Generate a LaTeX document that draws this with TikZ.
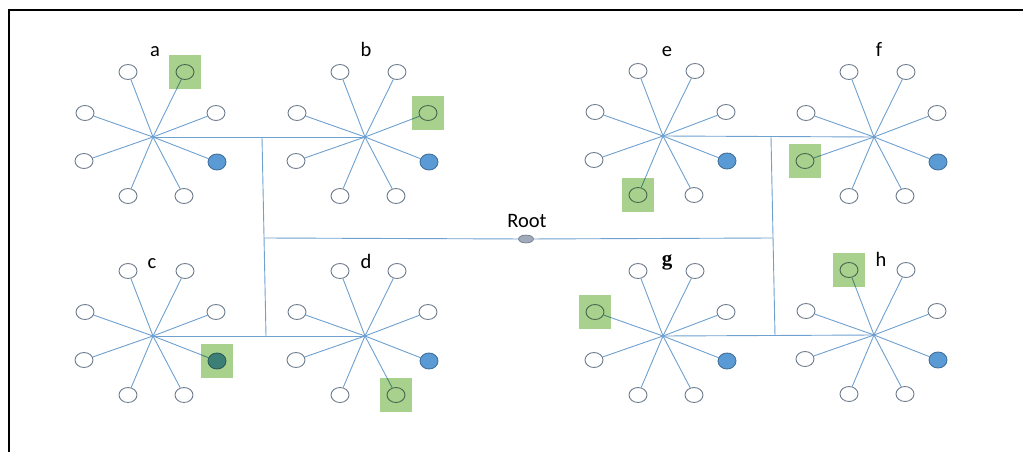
\documentclass[tikz,border=0pt]{standalone}
\usepackage{fontspec}
\setmainfont{Carlito}
\newfontfamily\serifg{Liberation Serif}
\definecolor{linkblue}{RGB}{110,160,208}
\definecolor{leafline}{RGB}{110,125,142}
\definecolor{leaffill}{RGB}{91,155,213}
\definecolor{leafdraw}{RGB}{65,113,156}
\definecolor{greenbox}{RGB}{169,209,142}
\definecolor{rootfill}{RGB}{160,170,185}
\definecolor{rootdraw}{RGB}{105,115,130}
\tikzset{
  leaf/.style={ellipse, draw=leafline, line width=0.9pt, minimum width=18pt, minimum height=15pt, inner sep=0pt},
  leafon/.style={leaf, fill=leaffill, draw=leafdraw, minimum height=16pt},
  link/.style={draw=linkblue, line width=0.9pt},
  gbox/.style={fill=greenbox, minimum width=32pt, minimum height=34pt, inner sep=0pt},
  lbl/.style={font=\fontsize{20.5}{24}\selectfont, anchor=base, inner sep=0pt},
  rootnode/.style={ellipse, fill=rootfill, draw=rootdraw, line width=0.6pt, minimum width=15pt, minimum height=8pt, inner sep=0pt},
}
\usetikzlibrary{shapes.geometric}
\newcommand\mystar[3]{%
  \begin{scope}[shift={(#2,#3)}]
    \coordinate (#1) at (0,0);
    \node[leaf] (#1-1) at (-25,-65) {};
    \node[leaf] (#1-2) at (32,-65) {};
    \node[leaf] (#1-3) at (-68,-24) {};
    \node[leaf] (#1-4) at (63,-24) {};
    \node[leaf] (#1-5) at (-69,24) {};
    \node[leafon] (#1-6) at (64,25) {};
    \node[leaf] (#1-7) at (-25,59) {};
    \node[leaf] (#1-8) at (31,59) {};
  \end{scope}
  \foreach \k in {1,...,8} {\draw[link] (#1) -- (#1-\k);}
}
\begin{document}
\begin{tikzpicture}[x={(1pt,0)}, y={(0,-1pt)}]
\useasboundingbox (0,0) rectangle (1023,452);
\draw[line width=2.5pt] (9,452) -- (9,10) -- (1023,10);

\mystar{a}{153}{137}
\mystar{b}{365}{137}
\mystar{c}{153}{336}
\mystar{d}{365}{336}
\mystar{e}{663}{136}
\mystar{f}{874}{137}
\mystar{g}{663}{336}
\mystar{h}{874}{335}

\node[lbl] (la) at (155,57) {a};
\node[lbl] (lb) at (366,57) {b};
\node[lbl] (lc) at (152,268) {c};
\node[lbl] (ld) at (366,268) {d};
\node[lbl] (le) at (667,57) {e};
\node[lbl] (lf) at (879,57) {f};
\node[lbl, font=\serifg\bfseries\fontsize{21}{24}\selectfont] (lg) at (667,265) {g};
\node[lbl] (lh) at (881,266) {h};

\node[rootnode] (root) at (526,239) {};
\node[lbl] (lroot) at (527,227) {Root};

\coordinate (jab) at (262,137);
\coordinate (jcd) at (266,336);
\coordinate (jl) at (264,238);
\coordinate (jef) at (771,137);
\coordinate (jgh) at (775,336);
\coordinate (jr) at (773,238);

\draw[link] (a) -- (b);
\draw[link] (c) -- (d);
\draw[link] (e) -- (f);
\draw[link] (g) -- (h);
\draw[link] (jab) -- (jcd);
\draw[link] (jef) -- (jgh);
\draw[link] (jl) -- (root);
\draw[link] (root) -- (jr);

\begin{scope}[blend mode=multiply]
\node[gbox] (ga) at (a-2) {};
\node[gbox] (gb) at (b-4) {};
\node[gbox] (gc) at (c-6) {};
\node[gbox] (gd) at (d-8) {};
\node[gbox] (ge) at (e-7) {};
\node[gbox] (gf) at (f-5) {};
\node[gbox] (gg) at (g-3) {};
\node[gbox] (gh) at (h-1) {};
\end{scope}
\end{tikzpicture}
\end{document}
